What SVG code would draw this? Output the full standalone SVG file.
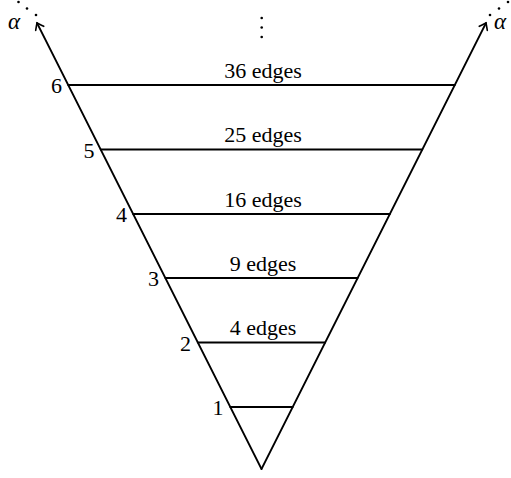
<svg xmlns="http://www.w3.org/2000/svg" width="511" height="478" viewBox="0 0 511 478">
<style>
.ln{stroke:#000;stroke-width:1.8;fill:none;stroke-linecap:round}
.t{font-family:"Liberation Serif","Times New Roman",serif;font-size:22px;fill:#000}
.a{font-family:"Liberation Serif","Times New Roman",serif;font-size:23px;font-style:italic;fill:#000}
.d{fill:#000}
</style>
<defs>
<marker id="arr" markerUnits="userSpaceOnUse" viewBox="-8 -6 10 12" markerWidth="10" markerHeight="12" refX="0" refY="0" orient="auto">
<path d="M -6 -4.5 Q -1.5 -1.2 0 0 Q -1.5 1.2 -6 4.5" stroke="#000" stroke-width="1.6" fill="none" stroke-linecap="round"/>
</marker>
</defs>
<g id="connectors">
<line class="ln" x1="261.5" y1="469" x2="37" y2="23" marker-end="url(#arr)"/>
<line class="ln" x1="261.5" y1="469" x2="486" y2="23" marker-end="url(#arr)"/>
<line class="ln" x1="68.2" y1="85" x2="454.8" y2="85"/>
<line class="ln" x1="100.7" y1="149.5" x2="422.3" y2="149.5"/>
<line class="ln" x1="133.1" y1="214" x2="389.9" y2="214"/>
<line class="ln" x1="165.4" y1="278" x2="357.6" y2="278"/>
<line class="ln" x1="197.8" y1="342.5" x2="325.2" y2="342.5"/>
<line class="ln" x1="230.3" y1="407" x2="292.7" y2="407"/>
</g>
<g id="level6"><text class="t" x="62" y="93" text-anchor="end">6</text><text class="t" x="263" y="78" text-anchor="middle">36 edges</text></g>
<g id="level5"><text class="t" x="94.5" y="158" text-anchor="end">5</text><text class="t" x="263" y="142" text-anchor="middle">25 edges</text></g>
<g id="level4"><text class="t" x="127" y="222" text-anchor="end">4</text><text class="t" x="263" y="207" text-anchor="middle">16 edges</text></g>
<g id="level3"><text class="t" x="159" y="286" text-anchor="end">3</text><text class="t" x="263" y="271" text-anchor="middle">9 edges</text></g>
<g id="level2"><text class="t" x="191" y="351" text-anchor="end">2</text><text class="t" x="263" y="335" text-anchor="middle">4 edges</text></g>
<g id="level1"><text class="t" x="223.5" y="415" text-anchor="end">1</text></g>
<g id="left-top">
<text class="a" x="8" y="29">α</text>
<circle class="d" cx="18.5" cy="2" r="1.3"/><circle class="d" cx="27" cy="8.5" r="1.3"/><circle class="d" cx="36" cy="15" r="1.3"/>
</g>
<g id="right-top">
<text class="a" x="494" y="29">α</text>
<circle class="d" cx="490" cy="15" r="1.3"/><circle class="d" cx="499" cy="8.5" r="1.3"/><circle class="d" cx="508" cy="2" r="1.3"/>
</g>
<g id="top-dots">
<circle class="d" cx="261.7" cy="18" r="1.3"/><circle class="d" cx="261.7" cy="27.5" r="1.3"/><circle class="d" cx="261.7" cy="37" r="1.3"/>
</g>
</svg>
